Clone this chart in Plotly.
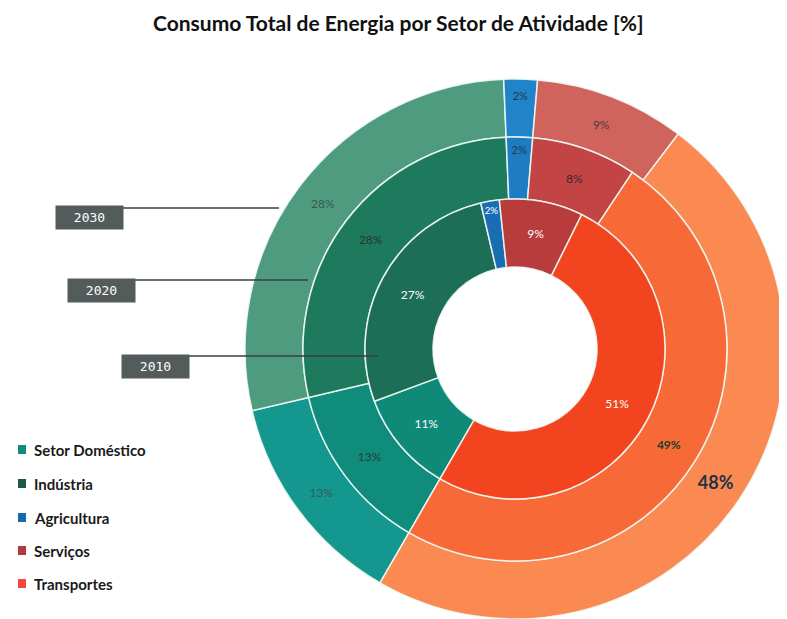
import plotly.graph_objects as go

# ---------------- data ----------------
setores = ["Setor Doméstico", "Indústria", "Agricultura", "Serviços", "Transportes"]
anos = ["2010", "2020", "2030"]
v2010 = [11, 27, 2, 9, 51]
v2020 = [13, 28, 2, 8, 49]
v2030 = [13, 28, 2, 9, 48]

titulo = "Consumo Total de Energia por Setor de Atividade [%]"

# ---------------- styling ----------------
OFF = 8                       # page body margin of the browser
W, H = 787 - OFF, 619 - OFF   # figure size so it fills the window
CX, CY = 515, 349             # ring centre (screen px)
R_HOLE, R1, R2, R3 = 82, 150, 212, 270

cores_2010 = ["#0f8a78", "#1d6e56", "#1a6db3", "#b83c3c", "#f2451f"]
cores_2020 = ["#108c7d", "#1d7a5d", "#1e7cc2", "#c24444", "#f76a38"]
cores_2030 = ["#13978f", "#4f9b80", "#2184c8", "#d0645c", "#fa8a52"]
cores_legenda = ["#138a7d", "#1c5a44", "#1b6aa8", "#b33a3a", "#f04b3c"]

txt_2010 = ["white"] * 5
txt_2020 = ["#2e3b38", "#263630", "#24384a", "#3a2a2a", "#1d3a2a"]
txt_2030 = ["#3b5a55", "#355a4c", "#24384a", "#4a3a3a", "#1d3344"]


def px(sx):
    return (sx - OFF) / W


def py(sy):
    return 1 - (sy - OFF) / H


def dom(r):
    return dict(x=[max(0, px(CX - r)), min(1, px(CX + r))],
                y=[max(0, py(CY + r)), min(1, py(CY - r))])


def labels(vals, bold_idx=None):
    out = []
    for i, v in enumerate(vals):
        s = f"{v}%"
        if bold_idx is not None and i == bold_idx:
            s = f"<b>{s}</b>"
        out.append(s)
    return out


fig = go.Figure()

rings = [
    (v2030, cores_2030, txt_2030, R3, R2 / R3, [12, 12, 11, 12, 18], 4),
    (v2020, cores_2020, txt_2020, R2, R1 / R2, [12, 12, 11, 12, 12], 4),
    (v2010, cores_2010, txt_2010, R1, R_HOLE / R1, [12, 12, 11, 12, 12], None),
]
for vals, cols, tcols, r, hole, sizes, bidx in rings:
    fig.add_trace(go.Pie(
        labels=setores, values=vals, text=labels(vals, bidx),
        textinfo="text", textposition="inside",
        insidetextorientation="horizontal",
        insidetextfont=dict(family="Lato", color=tcols, size=sizes),
        textfont=dict(family="Lato", color=tcols, size=sizes),
        marker=dict(colors=cols, line=dict(color="rgba(240,250,245,0.9)", width=1.5)),
        hole=hole, sort=False, direction="clockwise", rotation=210,
        domain=dom(r), showlegend=False, hoverinfo="label+text",
    ))

# ---------------- legend (manual) ----------------
leg_y = [450, 484, 518, 551, 584]
shapes = []
annotations = []
for nome, cor, y in zip(setores, cores_legenda, leg_y):
    shapes.append(dict(type="rect", xref="paper", yref="paper",
                       x0=px(18), x1=px(26), y0=py(y + 4), y1=py(y - 5),
                       fillcolor=cor, line=dict(width=0)))
    annotations.append(dict(text=f"<b>{nome}</b>", xref="paper", yref="paper",
                            x=px(32), y=py(y), xanchor="left", yanchor="middle",
                            showarrow=False,
                            font=dict(family="Lato", size=15, color="#1a1a1a")))

# ---------------- year call-outs ----------------
callouts = [  # (text, box centre x, box centre y, line x0, line x1, line y)
    ("2030", 89.5, 217, 123, 279, 208),
    ("2020", 101, 290, 135, 308, 280),
    ("2010", 155.5, 366, 189, 378, 356),
]
for txt, bx, by, lx0, lx1, ly in callouts:
    shapes.append(dict(type="line", xref="paper", yref="paper",
                       x0=px(lx0), x1=px(lx1), y0=py(ly), y1=py(ly),
                       line=dict(color="#3a3f3f", width=1.5)))
    annotations.append(dict(text=txt, xref="paper", yref="paper",
                            x=px(bx), y=py(by), xanchor="center", yanchor="middle",
                            showarrow=False, width=67, height=23, borderpad=0,
                            bgcolor="#535b5b",
                            font=dict(family="DejaVu Sans Mono", size=13, color="white")))

# title as an annotation so it is never clipped by the figure top
annotations.append(dict(text=f"<b>{titulo}</b>", xref="paper", yref="paper",
                        x=px(398), y=py(22), xanchor="center", yanchor="middle",
                        showarrow=False,
                        font=dict(family="Lato", size=21, color="#111111")))

fig.update_layout(
    width=W, height=H,
    margin=dict(l=0, r=0, t=0, b=0),
    paper_bgcolor="white", plot_bgcolor="white",
    shapes=shapes, annotations=annotations,
    showlegend=False,
)

fig.write_html("out.html")
